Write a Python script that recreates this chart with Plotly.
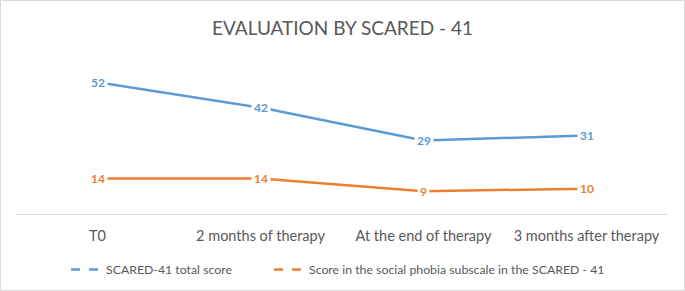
import plotly.graph_objects as go

categories = ["T0", "2 months of therapy", "At the end of therapy", "3 months after therapy"]
total_score = [52, 42, 29, 31]
social_phobia = [14, 14, 9, 10]
series_names = ["SCARED-41 total score", "Score in the social phobia subscale in the SCARED - 41"]
colors = ["#5B9BD5", "#ED7D31"]

FONT = "Lato"
fig = go.Figure()

legend_ids = ["legend", "legend2"]
for vals, name, col, lid in [(total_score, series_names[0], colors[0], legend_ids[0]),
                             (social_phobia, series_names[1], colors[1], legend_ids[1])]:
    fig.add_trace(go.Scatter(x=categories, y=vals, mode="lines", line=dict(color=col, width=2.5),
                             showlegend=False, hoverinfo="skip"))
    # legend entries (dashed samples as in reference)
    fig.add_trace(go.Scatter(x=[None], y=[None], mode="lines", name=name, legend=lid,
                             line=dict(color=col, width=2.5, dash="dash")))
    for c, v in zip(categories, vals):
        fig.add_annotation(x=c, y=v, text=f"<b>{v}</b>", showarrow=False, bgcolor="white",
                           font=dict(family=FONT, size=12, color=col), borderpad=2)

leg_common = dict(orientation="h", xref="container", yref="container", y=1 - 255 / 291,
                  xanchor="left", yanchor="top", font=dict(family=FONT, size=12.3, color="#595959"),
                  bgcolor="rgba(0,0,0,0)")

fig.update_layout(
    width=685, height=291,
    margin=dict(l=16, r=17, t=62, b=77, autoexpand=False),
    paper_bgcolor="white", plot_bgcolor="white",
    title=dict(text="EVALUATION BY SCARED - 41", x=0.5, xanchor="center", y=1 - 28 / 291, yanchor="middle",
               font=dict(family=FONT, size=19, color="#595959"), automargin=False),
    xaxis=dict(type="category", range=[-0.5, 3.5], showgrid=False, showline=True, linecolor="#D9D9D9",
               linewidth=1, ticks="outside", ticklen=9, tickcolor="rgba(0,0,0,0)", automargin=False,
               tickfont=dict(family=FONT, size=14.5, color="#595959"), zeroline=False, fixedrange=True),
    yaxis=dict(range=[0, 60], showgrid=False, showticklabels=False, zeroline=False, showline=False,
               automargin=False, fixedrange=True),
    legend=dict(x=66 / 685, **leg_common),
    legend2=dict(x=269 / 685, **leg_common),
    shapes=[dict(type="rect", xref="paper", yref="paper", x0=-15.5 / 652, x1=1 + 16.5 / 652,
                 y0=-76.5 / 152, y1=1 + 61.5 / 152, line=dict(color="#D9D9D9", width=1))],
)

fig.write_html("out.html", config={"displayModeBar": False},
               post_script="document.body.style.margin='0';")
